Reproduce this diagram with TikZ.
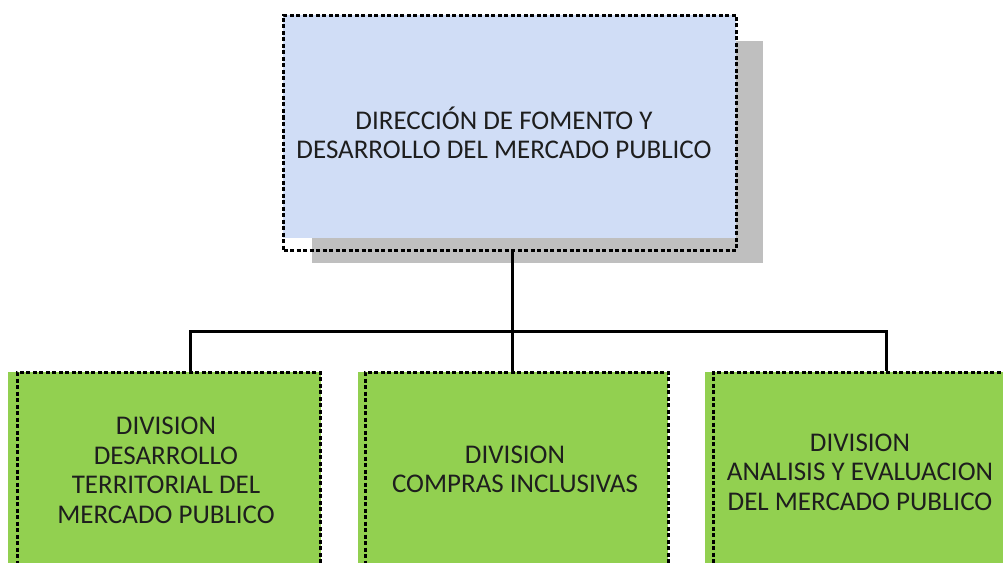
\documentclass[tikz,border=0pt]{standalone}
\usepackage{fontspec}
\setmainfont{Carlito}
\definecolor{topfill}{HTML}{D0DDF6}
\definecolor{divfill}{HTML}{92D050}
\definecolor{shadowgray}{HTML}{BFBFBF}
\definecolor{ink}{HTML}{1E1E1E}
\begin{document}
\begin{tikzpicture}[x=1pt,y=-1pt,
  boxline/.style={draw=black, line width=3pt, dash pattern=on 4pt off 2.5pt, rectangle, inner sep=0pt},
  lbl/.style={text=ink, align=center, inner sep=0pt, font=\fontsize{27}{29.5}\selectfont},
  link/.style={draw=black, line width=3pt}]
\clip (0,0) rectangle (1003,562);
\fill[white] (0,0) rectangle (1003,562);
% top box
\fill[shadowgray] (312,41) rectangle (763,263);
\fill[topfill] (283,15) rectangle (736,238);
\node[boxline, minimum width=453pt, minimum height=235pt] (dir) at (510,132.5) {};
\node[lbl] (dirt) at (504,133) {DIRECCIÓN DE FOMENTO Y\\DESARROLLO DEL MERCADO PUBLICO};
% division boxes
\fill[divfill] (8,372) rectangle (321,580);
\node[boxline, minimum width=303pt, minimum height=200pt] (d1) at (168.5,472) {};
\node[lbl] (d1t) at (166,470.5) {DIVISION\\DESARROLLO\\TERRITORIAL DEL\\MERCADO PUBLICO};
\fill[divfill] (358,372) rectangle (668,580);
\node[boxline, minimum width=303pt, minimum height=200pt] (d2) at (516.5,472) {};
\node[lbl] (d2t) at (515,469.5) {DIVISION\\COMPRAS INCLUSIVAS};
\fill[divfill] (705,372) rectangle (1020,580);
\node[boxline, minimum width=307pt, minimum height=200pt] (d3) at (866.5,472) {};
\node[lbl] (d3t) at (860,472) {DIVISION\\ANALISIS Y EVALUACION\\DEL MERCADO PUBLICO};
% connectors
\coordinate (jl) at (190,331);
\coordinate (jm) at (512,331);
\coordinate (jr) at (886,331);
\draw[link] (jm |- dir.south) -- (jm) -- (jm |- d2.north);
\draw[link] (jl |- d1.north) -- (jl) -- (jr) -- (jr |- d3.north);
\end{tikzpicture}
\end{document}
